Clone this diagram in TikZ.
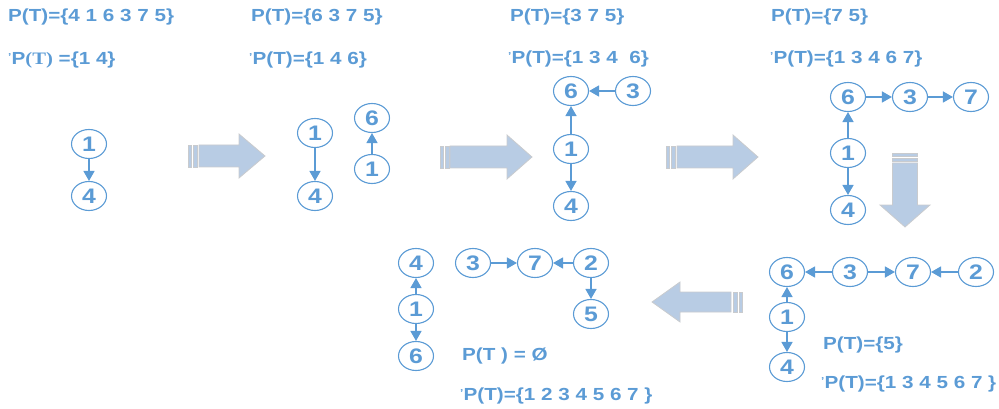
\documentclass[tikz,border=0pt]{standalone}
\usepackage{fontspec}
\setmainfont{Liberation Sans}[FakeStretch=1.18]
\newfontfamily\serifT{Liberation Serif}[FakeStretch=1.18]
\usetikzlibrary{shapes.geometric,arrows.meta}
\definecolor{myblue}{HTML}{5B9BD5}
\definecolor{arrfill}{HTML}{B8CCE4}
\definecolor{arrline}{HTML}{C9CBCE}
\newcommand\tick{\raisebox{4pt}{\fontsize{10}{10}\selectfont'}\kern0.2pt}
\tikzset{
  vert/.style={ellipse,draw=myblue,line width=1.1pt,fill=white,minimum width=35pt,minimum height=29pt,inner sep=0pt,text=myblue,font=\fontsize{21}{21}\selectfont\bfseries},
  edge/.style={draw=myblue,line width=1.5pt,-{Triangle[length=10pt,width=11pt]}},
  lab/.style={anchor=west,inner sep=0pt,text=myblue,font=\fontsize{17.5}{18}\selectfont\bfseries},
  bigarr/.style={fill=arrfill,draw=arrline,line width=0.8pt}
}
\begin{document}
\begin{tikzpicture}[x=1pt,y=-1pt]
\useasboundingbox (0,0) rectangle (999,409);
% texts
\node[lab] (t1a) at (8,17) {P(T)=\{4 1 6 3 7 5\}};
\node[lab] (t1b) at (8,60) {\tick P{\serifT(T)} =\{1 4\}};
\node[lab] (t2a) at (251,17) {P(T)=\{6 3 7 5\}};
\node[lab] (t2b) at (249,60) {\tick P(T)=\{1 4 6\}};
\node[lab] (t3a) at (510,17) {P(T)=\{3 7 5\}};
\node[lab] (t3b) at (508,59) {\tick P(T)=\{1 3 4\ \ 6\}};
\node[lab] (t4a) at (771,17) {P(T)=\{7 5\}};
\node[lab] (t4b) at (770,59) {\tick P(T)=\{1 3 4 6 7\}};
\node[lab] (t5a) at (823,345) {P(T)=\{5\}};
\node[lab] (t5b) at (821,384) {\tick P(T)=\{1 3 4 5 6 7 \}};
\node[lab] (t6a) at (462,356) {P(T ) = Ø};
\node[lab] (t6b) at (460,396) {\tick P(T)=\{1 2 3 4 5 6 7 \}};
% stage 1
\node[vert] (a1) at (89,144) {1};
\node[vert] (a4) at (89,196) {4};
\draw[edge] (a1) -- (a4);
% stage 2
\node[vert] (b1) at (315,133) {1};
\node[vert] (b4) at (315,196) {4};
\node[vert] (b6) at (372,118) {6};
\node[vert] (b1r) at (372,169) {1};
\draw[edge] (b1) -- (b4);
\draw[edge] (b1r) -- (b6);
% stage 3
\node[vert] (c6) at (571,91) {6};
\node[vert] (c3) at (633,91) {3};
\node[vert] (c1) at (571,149) {1};
\node[vert] (c4) at (571,206) {4};
\draw[edge] (c3) -- (c6);
\draw[edge] (c1) -- (c6);
\draw[edge] (c1) -- (c4);
% stage 4
\node[vert] (d6) at (848,97) {6};
\node[vert] (d3) at (910,97) {3};
\node[vert] (d7) at (971,97) {7};
\node[vert] (d1) at (848,153) {1};
\node[vert] (d4) at (848,210) {4};
\draw[edge] (d6) -- (d3);
\draw[edge] (d3) -- (d7);
\draw[edge] (d1) -- (d6);
\draw[edge] (d1) -- (d4);
% stage 5
\node[vert] (e6) at (787,272) {6};
\node[vert] (e3) at (850,272) {3};
\node[vert] (e7) at (913,272) {7};
\node[vert] (e2) at (976,272) {2};
\node[vert] (e1) at (787,317) {1};
\node[vert] (e4) at (787,367) {4};
\draw[edge] (e3) -- (e6);
\draw[edge] (e3) -- (e7);
\draw[edge] (e2) -- (e7);
\draw[edge] (e1) -- (e6);
\draw[edge] (e1) -- (e4);
% stage 6
\node[vert] (f4) at (416,263) {4};
\node[vert] (f1) at (416,309) {1};
\node[vert] (f6) at (416,356) {6};
\node[vert] (f3) at (473,263) {3};
\node[vert] (f7) at (535,263) {7};
\node[vert] (f2) at (591,263) {2};
\node[vert] (f5) at (591,314) {5};
\draw[edge] (f1) -- (f4);
\draw[edge] (f1) -- (f6);
\draw[edge] (f3) -- (f7);
\draw[edge] (f2) -- (f7);
\draw[edge] (f2) -- (f5);
% big striped arrows (right)
\foreach \s/\b/\h/\t/\c/\hb/\hh in {188/199/239/265/156/11/22, 440/450/507/532/157/11/22, 666/677/733/758/157/11/22}{
  \path[bigarr] (\s,\c-\hb) rectangle (\s+3,\c+\hb);
  \path[bigarr] (\s+5,\c-\hb) rectangle (\s+9,\c+\hb);
  \path[bigarr] (\b,\c-\hb) -- (\h,\c-\hb) -- (\h,\c-\hh) -- (\t,\c) -- (\h,\c+\hh) -- (\h,\c+\hb) -- (\b,\c+\hb) -- cycle;
}
% down arrow
\path[bigarr] (892.5,153) rectangle (917.5,156);
\path[bigarr] (892.5,158) rectangle (917.5,161);
\path[bigarr] (892.5,163) -- (892.5,205) -- (880,205) -- (905,227) -- (930,205) -- (917.5,205) -- (917.5,163) -- cycle;
% left arrow
\path[bigarr] (742,292) rectangle (739,312);
\path[bigarr] (737,292) rectangle (733,312);
\path[bigarr] (731,292) -- (680,292) -- (680,282) -- (652,302) -- (680,322) -- (680,312) -- (731,312) -- cycle;
\end{tikzpicture}
\end{document}
